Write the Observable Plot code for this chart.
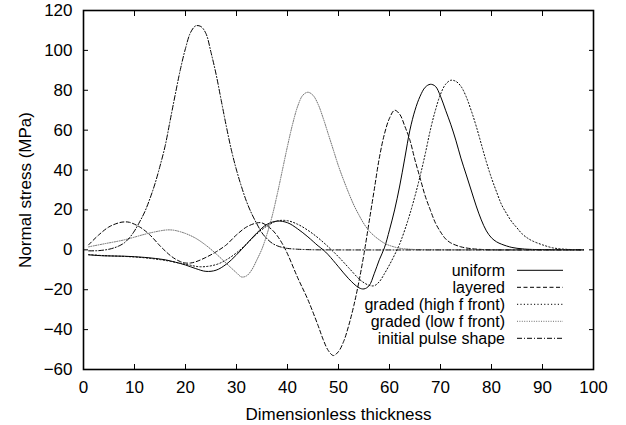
<!DOCTYPE html>
<html>
<head>
<meta charset="utf-8">
<script src="https://cdn.jsdelivr.net/npm/d3@7"></script>
<script src="https://cdn.jsdelivr.net/npm/@observablehq/plot@0.6"></script>
<style>
  html, body { margin: 0; padding: 0; background: #fff; }
  #chart { width: 626px; height: 425px; }
</style>
</head>
<body>
<div id="chart"></div>
<script>
// ---- data ----
const seriesNames = ["uniform", "layered", "graded (high f front)", "graded (low f front)", "initial pulse shape"];

const uniformX = [1,4,8,12,16,18,20,22,24,26,28,30,32,34,36,38,40,42,44,46,47,48,50,52,54,55,56,57,58,59,60,61,62,63,64,65,66,67,68,69,70,71,72,73,74,75,76,77,78,79,80,81,82,84,86,88,92,98];
const uniformY = [-2.5,-3,-3.2,-3.8,-5,-6.2,-7.6,-9.4,-10.8,-10.2,-7.2,-2.5,3,8.5,12.8,14.4,13.6,10.5,6.5,2,0,-2.5,-8.5,-14.5,-19,-19.6,-18,-12,-5,1,10,20,32,46,60,70,77,81.5,83,82,77,70,63,55,46,38,30,22,15,9.5,6,4,2.8,1.2,0.5,0.2,0.05,0];

const layeredX = [1,3,5,7,8,9,11,13,15,16,17,18,19,20,21,22,24,26,28,30,32,34,35,36,37,38,39,40,42,44,46,47,48,49,50,51,52,53,54,55,56,57,58,59,60,61,62,63,64,65,66,67,68,69,70,71,72,74,76,78,80,98];
const layeredY = [2.5,7.5,11.5,13.6,14,13.8,11.5,7.5,2,-0.5,-2.8,-4.6,-5.9,-6.6,-6.6,-6,-3.8,-1,2.5,7.5,11.5,13.5,13.5,12,10,7,3,-2,-14,-25,-38,-45,-50.5,-53,-51,-46,-38,-28,-16,-2,14,30,46,58,66,70,68,62,55,45,36,27,20,13.5,9,5.5,3.5,1.5,0.6,0.2,0,0];

const gradedHighX = [1,4,8,12,16,20,23,26,28,30,32,34,36,38,40,42,44,46,48,50,52,54,55,56,57,58,59,60,61,62,63,64,65,66,67,68,69,70,71,72,73,74,75,76,77,78,79,80,81,82,83,84,85,86,87,88,90,92,94,96,98];
const gradedHighY = [-2.4,-2.9,-3.3,-4,-5.3,-7.2,-8.5,-7.4,-5,-1.5,3,8,12,14.5,14.6,12.8,9.8,6,1.5,-3.5,-9,-14.5,-16.5,-17.8,-18,-16,-12,-7.5,-2.5,3,10,18,27,37,48,60,70,78,83,85,84.5,82,77,70,62,53,44,36,29,22.5,18,14,11,8,6,4.5,2.5,1,0.4,0.1,0];

const gradedLowX = [1,4,8,12,14,16,17,18,20,22,24,26,28,30,31,32,33,34,35,36,37,38,39,40,41,42,43,44,45,46,47,48,49,50,51,52,53,54,55,56,57,58,59,60,62,64,66,98];
const gradedLowY = [1.5,3,5,7.8,9,9.9,10,9.7,8.2,5.8,2.3,-2,-6.8,-11.5,-13.6,-13,-10,-5,0.5,8,17,28,40,52,63,72,77.5,79,77.5,73,66,58,50,42,35,28.5,22.5,17.5,13,9.5,7,5,3.3,2.2,0.8,0.3,0.1,0];

const pulseX = [1,3,5,6,7,8,9,10,11,12,13,14,15,16,17,18,19,20,21,22,23,24,25,26,27,28,29,30,31,32,33,34,35,36,37,38,39,40,42,44,46,98];
const pulseY = [-0.5,-0.4,0.3,1,2,3.5,6,9.5,14,19,25.5,33,42,52,65,78,90.5,101,109,112.3,112,108.5,99,88,75,62,50,40,31.5,24,18,13,8.5,5.5,3.3,2,1.2,0.7,0.3,0.1,0,0];

const xTicks = [0,10,20,30,40,50,60,70,80,90,100];
const yTicks = [-60,-40,-20,0,20,40,60,80,100,120];

const xLabel = "Dimensionless thickness";
const yLabel = "Normal stress (MPa)";

// ---- styles ----
const styles = [
  {stroke: "#000", dash: null},
  {stroke: "#000", dash: "4,2.5"},
  {stroke: "#000", dash: "1.2,2.2"},
  {stroke: "#6e6e6e", dash: "1,1.4"},
  {stroke: "#000", dash: "5,2,1,2"}
];

const xs = [uniformX, layeredX, gradedHighX, gradedLowX, pulseX];
const ys = [uniformY, layeredY, gradedHighY, gradedLowY, pulseY];
const series = seriesNames.map((name, k) => xs[k].map((x, i) => ({x, y: ys[k][i], name})));

const W = 626, H = 425;
const mL = 83, mR = 33, mT = 10, mB = 56;
const FONT = "'Liberation Sans', Arial, Helvetica, sans-serif";

const plot = Plot.plot({
  width: W, height: H,
  marginLeft: mL, marginRight: mR, marginTop: mT, marginBottom: mB,
  style: {fontFamily: FONT, fontSize: "17px", color: "#000", background: "#fff"},
  x: {domain: [0, 100]},
  y: {domain: [-60, 120]},
  marks: [
    ...series.map((d, k) => Plot.line(d, {
      x: "x", y: "y", stroke: styles[k].stroke, strokeWidth: 1,
      strokeDasharray: styles[k].dash, curve: "catmull-rom"
    })),
    Plot.axisX({anchor: "bottom", ticks: xTicks, tickSize: -5, tickPadding: 16, label: xLabel, labelAnchor: "center", labelOffset: 50, labelArrow: false}),
    Plot.axisX({anchor: "top", ticks: xTicks, tickSize: -5, tickFormat: () => "", label: null}),
    Plot.axisY({anchor: "left", ticks: yTicks, tickSize: -5, tickPadding: 16, label: yLabel, labelAnchor: "center", labelOffset: 65, labelArrow: false}),
    Plot.axisY({anchor: "right", ticks: yTicks, tickSize: -5, tickFormat: () => "", label: null}),
    Plot.frame({stroke: "#000", strokeWidth: 1.6})
  ]
});

document.getElementById("chart").appendChild(plot);

// ---- legend inside the frame (bottom-right) ----
const svg = d3.select(plot);
const right = W - mR, bottom = H - mB;
const lg = svg.append("g").attr("font-family", FONT).attr("font-size", 16);
seriesNames.forEach((name, i) => {
  const yy = bottom - 98.7 + 17 * i;
  lg.append("text").attr("x", right - 88).attr("y", yy).attr("dy", "0.35em")
    .attr("text-anchor", "end").attr("fill", "#000").text(name);
  lg.append("line").attr("x1", right - 76).attr("x2", right - 30).attr("y1", yy).attr("y2", yy)
    .attr("stroke", styles[i].stroke).attr("stroke-width", 1)
    .attr("stroke-dasharray", styles[i].dash);
});
</script>
</body>
</html>
